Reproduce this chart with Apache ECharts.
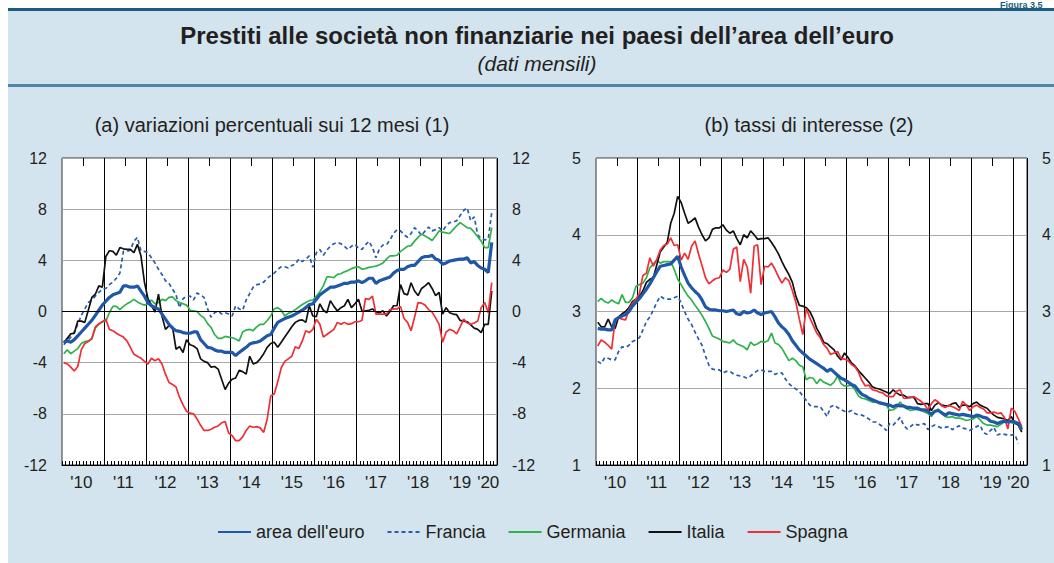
<!DOCTYPE html>
<html>
<head>
<meta charset="utf-8">
<script src="https://cdn.jsdelivr.net/npm/echarts@6/dist/echarts.min.js"></script>
<style>
html, body { margin: 0; padding: 0; background: #fff; }
#chart { width: 1054px; height: 563px; }
</style>
</head>
<body>
<div id="chart"></div>
<script>
// categories: one per month, Jan 2010 - Apr 2020 (the last band stays empty)
const months = [];
for (let y = 2010; y <= 2020; y++) {
    for (let m = 1; m <= 12; m++) {
        if (y === 2020 && m > 4) break;
        months.push(y + '-' + (m < 10 ? '0' + m : m));
    }
}

const seriesNames = ["area dell'euro", 'Francia', 'Germania', 'Italia', 'Spagna'];

// (a) variazioni percentuali sui 12 mesi
const euroGrowth = [
    -2.4, -2.3, -2.4, -2.2, -1.9, -1.6, -1.3, -1.0, -0.7, -0.3, 0.1, 0.5,
    0.8, 1.1, 1.3, 1.4, 1.5, 2.0, 2.0, 1.9, 1.9, 2.0, 1.6, 1.2,
    0.7, 0.45, 0.3, 0.2, -0.2, -0.6, -1.0, -1.3, -1.5, -1.55, -1.65, -1.7,
    -1.7, -1.6, -1.6, -2.2, -2.5, -2.8, -2.85, -3.0, -3.1, -3.1, -3.2, -3.2,
    -3.2, -3.45, -3.2, -3.0, -2.8, -2.55, -2.45, -2.4, -2.3, -2.1, -1.9, -1.8,
    -1.3, -0.85, -0.7, -0.55, -0.45, -0.35, -0.2, -0.05, 0.1, 0.3, 0.55, 0.6,
    0.95, 1.3, 1.5, 1.7, 1.9, 1.9, 2.0, 2.1, 2.2, 2.2, 2.3, 2.3,
    2.4, 2.25, 2.4, 2.6, 2.6, 2.2, 2.4, 2.5, 2.6, 2.7, 3.0, 3.2,
    3.3, 3.3, 3.5, 3.6, 3.6, 3.9, 4.2, 4.3, 4.3, 4.4, 4.1, 4.0,
    3.7, 3.8, 3.95, 4.0, 4.05, 4.1, 4.1, 4.2, 3.8, 3.9, 3.6, 3.4,
    3.3, 3.05, 5.4
];
const franceGrowth = [
    -2.6, -2.3, -2.0, -1.6, -1.0, -0.3, 0.2, 0.7, 0.9, 1.2, 1.5, 1.75,
    1.8, 2.1, 2.3, 2.6, 3.0, 4.7, 4.7, 4.8, 5.5, 5.8, 4.75, 4.7,
    4.6, 4.2, 3.8, 3.3, 2.9, 2.4, 2.2, 1.75, 1.3, 0.3, 1.0, 1.2,
    1.2, 0.9, 1.45, 1.3, 1.1, 0.2, -0.45, -0.1, 0.05, -0.2, -0.1, -0.2,
    -0.35, 0.45, 0.2, 0.1, 0.9, 1.4, 1.9, 2.1, 2.15, 2.3, 2.6, 2.8,
    3.0, 3.3, 3.5, 3.5, 3.4, 3.6, 3.7, 4.1, 3.9, 4.1, 4.35, 3.45,
    4.6, 4.85, 4.4, 4.8, 5.1, 5.3, 5.4, 5.3, 5.1, 4.85, 5.1, 5.25,
    4.95, 4.85, 5.2, 5.5, 5.0, 4.2, 4.9, 5.2, 5.2, 5.6, 6.1, 6.4,
    6.3, 6.0, 5.8, 6.1, 6.55, 6.3, 5.95, 6.3, 6.6, 6.3, 6.4, 6.55,
    6.3, 6.7, 6.95, 7.0, 7.1, 7.5, 7.9, 8.1, 7.1, 7.4, 6.0, 5.7,
    5.6, 5.65, 7.75
];
const germanyGrowth = [
    -3.3, -3.0, -3.3, -3.1, -2.9, -2.5, -2.35, -2.3, -2.15, -1.3, -1.0, -0.8,
    -0.75, -0.1, 0.4, 0.4, 0.15, 0.4, 0.6, 0.75, 0.95, 0.75, 0.6, 0.5,
    0.6, 0.9, 0.6, 0.7, 0.95, 0.85, 1.1, 1.15, 0.85, 0.7, 0.6, 0.5,
    0.1, 0.05, 0.0, -0.3, -0.5, -0.95, -1.25, -1.8, -2.1, -2.1, -1.95, -2.0,
    -2.05, -2.15, -2.3, -1.6, -1.45, -1.4, -1.5, -1.2, -1.0, -1.0, -0.7, -0.35,
    0.2, 0.3, 0.1, -0.35, -0.15, -0.05, 0.15, 0.35, 0.55, 0.7, 0.85, 0.9,
    1.2, 1.55, 2.0, 2.7, 2.7, 2.65, 2.9, 2.95, 3.1, 3.2, 3.35, 3.45,
    3.5, 3.3, 3.35, 3.45, 3.5, 3.55, 3.65, 3.8, 4.1, 4.35, 4.35, 4.4,
    4.7, 4.9, 5.1, 5.15, 5.5, 5.8, 6.05, 5.9, 5.75, 5.55, 5.9, 6.3,
    6.2, 6.15, 6.1, 6.4, 6.7, 6.95, 6.75, 6.55, 6.5, 6.2, 5.85, 5.5,
    5.0, 5.0, 6.55
];
const italyGrowth = [
    -2.45, -2.1, -1.75, -1.7, -0.75, -0.75, -0.85, 0.1, 1.1, 1.35, 2.0, 1.9,
    4.3, 4.75, 4.7, 4.4, 5.0, 4.9, 4.85, 4.85, 4.6, 5.25, 4.35, 2.3,
    1.0, 0.5, -0.05, 1.35, -0.35, -1.4, -1.1, -1.2, -2.95, -2.75, -3.2, -2.2,
    -2.6, -2.7, -2.9, -3.7, -3.9, -4.0, -4.35, -4.3, -4.5, -5.3, -6.1, -5.6,
    -5.3, -5.2, -4.6, -4.7, -4.9, -3.5, -4.1, -4.0, -3.7, -3.3, -2.8, -2.5,
    -2.4, -2.8, -2.4, -2.0, -1.6, -1.2, -0.85, -0.7, -0.65, -0.85, 0.45, -0.35,
    -0.4, 0.6, 0.1, -0.1, 0.85, 0.4, 0.05, 0.3, 0.45, 0.95, 0.3, 0.6,
    0.95, 0.05, 0.05, 0.1, 0.2, -0.05, -0.1, 0.05, -0.35, 0.0, 0.45, 0.45,
    2.1, 1.4, 1.3, 2.25, 1.6, 1.25, 1.8, 2.0, 2.25, 1.8, 1.25, 1.5,
    -0.2, 0.3, -0.1, -0.2, -0.25, -0.7, -0.75, -0.8, -1.05, -1.3, -1.4, -1.65,
    -1.0, -1.0, 1.6
];
const spainGrowth = [
    -4.0, -4.1, -4.35, -4.65, -4.3, -3.0, -2.5, -2.35, -2.1, -1.2, -0.95, -0.8,
    -0.6, -1.4, -1.5, -1.7, -1.85, -2.0, -2.3, -2.8, -3.35, -3.5, -3.65, -3.9,
    -4.1, -3.65, -3.85, -3.7, -4.1, -4.9, -5.55, -5.7, -5.9, -6.7, -7.3, -7.8,
    -7.95, -8.0, -8.4, -8.9, -9.3, -9.3, -9.2, -9.05, -8.95, -8.7, -8.6, -9.5,
    -9.7, -10.1, -10.1, -9.8, -9.3, -8.95, -9.05, -9.0, -9.1, -9.45, -8.4, -6.6,
    -6.45, -5.5, -4.4, -3.9, -3.7, -3.5, -2.75, -2.9, -2.3, -1.5, -1.65, -1.4,
    -0.6, -1.0, -2.0, -1.8, -1.6, -1.4, -0.85, -1.0, -0.85, -1.0, -0.95, -0.8,
    -0.8, -0.7, 1.0, 0.95, 1.2, -0.2, -0.2, -0.2, -0.2, 0.15, 0.2, 0.2,
    0.4, -0.55, -0.85, -1.5, -0.45, 0.7, 0.65, 0.5, 0.15, -0.05, -0.5, -1.0,
    -2.4, -1.6, -1.4, -1.5, -1.75, -1.2, -0.6, -0.9, -1.0, -0.9, -0.75, 0.3,
    0.7, -0.1, 2.25
];

// (b) tassi di interesse
const euroRate = [
    2.78, 2.77, 2.77, 2.76, 2.76, 2.89, 2.92, 2.94, 2.96, 3.0, 3.07, 3.12,
    3.17, 3.23, 3.29, 3.36, 3.44, 3.52, 3.59, 3.6, 3.61, 3.62, 3.67, 3.72,
    3.58, 3.47, 3.37, 3.31, 3.26, 3.22, 3.15, 3.06, 3.03, 3.02, 3.02, 3.01,
    3.01, 3.0, 3.01, 3.02, 2.97, 2.96, 3.0, 2.98, 2.99, 3.02, 2.98, 2.96,
    2.98, 2.99, 3.0, 2.93, 2.85, 2.8, 2.76, 2.7, 2.62, 2.56, 2.5, 2.46,
    2.42, 2.38, 2.35, 2.32, 2.29, 2.26, 2.22, 2.25, 2.21, 2.17, 2.13, 2.11,
    2.08, 2.05, 2.03, 1.97, 1.92, 1.9, 1.87, 1.85, 1.83, 1.81, 1.8, 1.79,
    1.78, 1.76, 1.78, 1.77, 1.77, 1.75, 1.75, 1.74, 1.74, 1.72, 1.72, 1.7,
    1.66, 1.7, 1.71, 1.68, 1.65, 1.68, 1.67, 1.66, 1.65, 1.66, 1.65, 1.64,
    1.63, 1.65, 1.64, 1.62, 1.61, 1.57, 1.56, 1.54, 1.56, 1.57, 1.56, 1.57,
    1.56, 1.54, 1.46
];
const franceRate = [
    2.35, 2.32, 2.4, 2.39, 2.37, 2.37, 2.48, 2.54, 2.53, 2.56, 2.61, 2.63,
    2.66, 2.76, 2.87, 2.93, 3.02, 3.12, 3.2, 3.17, 3.16, 3.16, 3.18, 3.2,
    3.11, 3.0, 2.9, 2.83, 2.73, 2.64, 2.56, 2.42, 2.3, 2.25, 2.24, 2.24,
    2.2, 2.22, 2.22, 2.19, 2.17, 2.16, 2.15, 2.13, 2.16, 2.2, 2.23, 2.24,
    2.22, 2.22, 2.22, 2.18, 2.2, 2.2, 2.12, 2.06, 2.02, 1.99, 1.96, 1.9,
    1.84, 1.78, 1.76, 1.76, 1.76, 1.7, 1.63, 1.76, 1.78, 1.75, 1.72, 1.7,
    1.69, 1.71, 1.67, 1.65, 1.65, 1.63, 1.6, 1.56, 1.56, 1.53, 1.5, 1.45,
    1.54, 1.52, 1.57, 1.62, 1.52, 1.47, 1.5, 1.54, 1.52, 1.53, 1.54, 1.46,
    1.5, 1.52, 1.5, 1.48, 1.49, 1.5, 1.46, 1.49, 1.51, 1.48, 1.47, 1.45,
    1.48, 1.5, 1.52, 1.42, 1.4, 1.45, 1.49, 1.39, 1.41, 1.4, 1.39, 1.39,
    1.4, 1.28, null
];
const germanyRate = [
    3.13, 3.17, 3.13, 3.11, 3.15, 3.12, 3.1, 3.22, 3.12, 3.12, 3.18, 3.33,
    3.35, 3.37, 3.44, 3.57, 3.62, 3.67, 3.63, 3.65, 3.65, 3.65, 3.55, 3.42,
    3.35, 3.27, 3.2, 3.15, 3.08, 3.02, 2.95, 2.87, 2.78, 2.68, 2.66, 2.64,
    2.61, 2.6, 2.59, 2.63, 2.58, 2.56, 2.54, 2.5, 2.6, 2.56, 2.58, 2.61,
    2.6, 2.62, 2.72, 2.59, 2.57, 2.52, 2.44, 2.36, 2.39, 2.36, 2.3, 2.28,
    2.11, 2.14, 2.13, 2.06, 2.12, 2.08, 2.06, 2.04, 2.08, 2.16, 2.06, 2.03,
    2.03, 2.04, 1.98, 1.9, 1.87, 1.86, 1.84, 1.82, 1.82, 1.82, 1.81, 1.78,
    1.71, 1.72, 1.75, 1.82, 1.76, 1.73, 1.71, 1.72, 1.72, 1.71, 1.69, 1.67,
    1.63, 1.7, 1.73, 1.67, 1.63, 1.62, 1.63, 1.61, 1.61, 1.6, 1.58, 1.59,
    1.6, 1.63, 1.59, 1.54, 1.52, 1.52, 1.51, 1.5, 1.53, 1.56, 1.56, 1.55,
    1.54, 1.52, 1.48
];
const italyRate = [
    2.86, 2.8, 2.8, 2.9, 2.8, 2.78, 2.93, 2.97, 3.0, 3.05, 3.13, 3.16,
    3.2, 3.27, 3.38, 3.42, 3.44, 3.61, 3.78, 3.84, 3.9, 4.15, 4.28, 4.5,
    4.42, 4.28, 4.15, 4.18, 4.22, 4.1, 4.0, 3.92, 3.96, 4.07, 4.09, 4.09,
    4.13, 4.06, 4.02, 4.05, 3.95, 3.87, 4.0, 3.96, 4.05, 4.0, 3.94, 3.95,
    3.95, 3.96, 3.9, 3.83, 3.75, 3.65, 3.56, 3.48, 3.38, 3.2, 3.08, 3.07,
    3.05, 3.0, 2.91, 2.78, 2.7, 2.6, 2.58, 2.54, 2.5, 2.42, 2.37, 2.46,
    2.4, 2.33, 2.29, 2.23, 2.18, 2.13, 2.08, 2.02, 2.0, 1.99, 1.97, 1.95,
    1.93, 1.98, 1.94, 1.91, 1.91, 1.88, 1.88, 1.88, 1.8, 1.79, 1.8, 1.8,
    1.71, 1.78, 1.81, 1.78, 1.77, 1.77, 1.8, 1.81, 1.75, 1.78, 1.78, 1.76,
    1.8, 1.82, 1.78, 1.76, 1.74, 1.69, 1.65, 1.62, 1.61, 1.6, 1.58, 1.63,
    1.55, 1.52, 1.43
];
const spainRate = [
    2.55, 2.63, 2.6, 2.56, 2.51, 2.89, 2.92, 2.9, 2.89, 3.03, 3.11, 3.16,
    3.24, 3.47, 3.5, 3.7, 3.59, 3.68, 3.8, 3.86, 3.88, 3.96, 3.86, 3.87,
    3.67, 3.76, 3.68, 3.85, 3.92, 3.75, 3.6, 3.44, 3.36, 3.4, 3.43, 3.44,
    3.54, 3.51, 3.55, 3.81, 3.84, 3.39, 3.68, 3.58, 3.24, 3.85, 3.87, 3.35,
    3.59, 3.58, 3.63, 3.55, 3.45, 3.37, 3.44, 3.4, 3.27, 3.12, 2.9, 2.7,
    3.04, 2.92, 2.82, 2.72, 2.66, 2.57, 2.52, 2.44, 2.46, 2.48, 2.39, 2.38,
    2.36, 2.31, 2.28, 2.21, 2.1, 2.03, 2.04, 1.98, 1.97, 1.95, 1.94, 1.9,
    1.89, 1.89, 1.96, 1.98, 1.87, 1.87, 1.88, 1.89, 1.86, 1.83, 1.79, 1.72,
    1.8, 1.85, 1.82, 1.77, 1.75, 1.78, 1.76, 1.74, 1.71, 1.83, 1.78, 1.71,
    1.76, 1.78, 1.75, 1.73, 1.68, 1.68, 1.69, 1.67, 1.68, 1.62, 1.47, 1.74,
    1.7, 1.6, 1.5
];

const font = '"Liberation Sans", Arial, Helvetica, sans-serif';
const textColor = '#231f20';

const lineStyles = {
    "area dell'euro": { color: '#1f58a8', width: 3.2, type: 'solid' },
    'Francia': { color: '#2a5cad', width: 1.7, type: [4, 3] },
    'Germania': { color: '#2fb24c', width: 1.7, type: 'solid' },
    'Italia': { color: '#111111', width: 1.7, type: 'solid' },
    'Spagna': { color: '#ee2f36', width: 1.7, type: 'solid' }
};

const makeSeries = (name, data, axisIndex) => {
    const st = lineStyles[name];
    return {
        type: 'line',
        name: name,
        data: data,
        xAxisIndex: axisIndex * 2,
        yAxisIndex: axisIndex * 2,
        symbol: 'none',
        animation: false,
        lineStyle: { color: st.color, width: st.width, type: st.type },
        itemStyle: { color: st.color }
    };
};

const monthAxis = (gridIndex, main) => {
    return {
        type: 'category',
        gridIndex: gridIndex,
        data: months,
        boundaryGap: true,
        axisLine: { show: main, onZero: false, lineStyle: { color: '#000', width: 1 } },
        axisTick: main
            ? { show: true, inside: true, length: 4, interval: 0, lineStyle: { color: '#000' } }
            : { show: true, inside: true, length: 8, interval: (i) => i % 12 === 6, lineStyle: { color: '#000' } },
        axisLabel: main ? {
            show: true,
            interval: (i) => (i % 12 === 5 && i < 120) || i === 121,
            formatter: (v) => "'" + v.substring(2, 4),
            fontFamily: font,
            fontSize: 17,
            color: textColor,
            margin: 9
        } : { show: false },
        splitLine: main ? {
            show: true,
            interval: (i) => i > 0 && i % 12 === 0,
            lineStyle: { color: '#000', width: 1 }
        } : { show: false }
    };
};

const valueAxis = (gridIndex, side, min, max, interval) => {
    return {
        type: 'value',
        gridIndex: gridIndex,
        position: side,
        min: min,
        max: max,
        interval: interval,
        axisLine: { show: false },
        axisTick: { show: false },
        axisLabel: { fontFamily: font, fontSize: 16, color: textColor, margin: 15 },
        splitLine: side === 'left'
            ? { show: true, lineStyle: { color: '#a8a8a8', width: 1 } }
            : { show: false }
    };
};

const getOption = () => {
    const series = [];
    const growth = [euroGrowth, franceGrowth, germanyGrowth, italyGrowth, spainGrowth];
    const rates = [euroRate, franceRate, germanyRate, italyRate, spainRate];
    // draw the euro area line last so it sits on top
    [1, 2, 3, 4, 0].forEach((k) => {
        series.push(makeSeries(seriesNames[k], growth[k], 0));
    });
    [1, 2, 3, 4, 0].forEach((k) => {
        series.push(makeSeries(seriesNames[k], rates[k], 1));
    });
    // zero line of panel (a)
    series[0].markLine = {
        silent: true,
        symbol: ['none', 'none'],
        label: { show: false },
        lineStyle: { color: '#000', width: 1, type: 'solid' },
        data: [{ yAxis: 0 }],
        animation: false
    };

    return {
        backgroundColor: '#d3e4ee',
        animation: false,
        textStyle: { fontFamily: font },
        grid: [
            { left: 62, top: 158, width: 435, height: 307, show: true, backgroundColor: '#fff', borderColor: '#333', borderWidth: 1 },
            { left: 596, top: 158, width: 431, height: 307, show: true, backgroundColor: '#fff', borderColor: '#333', borderWidth: 1 }
        ],
        xAxis: [monthAxis(0, true), monthAxis(0, false), monthAxis(1, true), monthAxis(1, false)],
        yAxis: [
            valueAxis(0, 'left', -12, 12, 4),
            valueAxis(0, 'right', -12, 12, 4),
            valueAxis(1, 'left', 1, 5, 1),
            valueAxis(1, 'right', 1, 5, 1)
        ],
        legend: {
            data: seriesNames,
            left: 212,
            top: 518,
            itemWidth: 33,
            itemHeight: 12,
            itemGap: 22,
            itemStyle: { opacity: 0 },
            textStyle: { fontFamily: font, fontSize: 18, color: textColor }
        },
        graphic: [
            { type: 'rect', shape: { x: 0, y: 0, width: 8, height: 563 }, style: { fill: '#fff' }, silent: true },
            { type: 'rect', shape: { x: 0, y: 0, width: 1054, height: 8 }, style: { fill: '#fff' }, silent: true },
            { type: 'rect', shape: { x: 8, y: 8, width: 1046, height: 3 }, style: { fill: '#1d5d7d' }, silent: true },
            { type: 'rect', shape: { x: 8, y: 84, width: 1046, height: 3 }, style: { fill: '#4d87a5' }, silent: true },
            {
                type: 'text', x: 1000, y: 0,
                style: { text: 'Figura 3.5', font: 'bold 9px ' + font, fill: '#1d5d7d', align: 'left', textAlign: 'left', verticalAlign: 'top', textVerticalAlign: 'top' }
            },
            {
                type: 'text', x: 537, y: 35,
                style: { text: 'Prestiti alle società non finanziarie nei paesi dell’area dell’euro', font: 'bold 24px ' + font, fill: textColor, align: 'center', textAlign: 'center', verticalAlign: 'middle', textVerticalAlign: 'middle' }
            },
            {
                type: 'text', x: 537, y: 63,
                style: { text: '(dati mensili)', font: 'italic 21px ' + font, fill: textColor, align: 'center', textAlign: 'center', verticalAlign: 'middle', textVerticalAlign: 'middle' }
            },
            {
                type: 'text', x: 272, y: 125,
                style: { text: '(a) variazioni percentuali sui 12 mesi (1)', font: '20px ' + font, fill: textColor, align: 'center', textAlign: 'center', verticalAlign: 'middle', textVerticalAlign: 'middle' }
            },
            {
                type: 'text', x: 809, y: 125,
                style: { text: '(b) tassi di interesse (2)', font: '20px ' + font, fill: textColor, align: 'center', textAlign: 'center', verticalAlign: 'middle', textVerticalAlign: 'middle' }
            }
        ],
        series: series
    };
};

let chart;
function initChart() {
    chart = echarts.init(document.getElementById('chart'), null, { renderer: 'svg' });
    chart.setOption(getOption());
}

document.addEventListener('DOMContentLoaded', function () {
    initChart();
});
</script>
</body>
</html>
